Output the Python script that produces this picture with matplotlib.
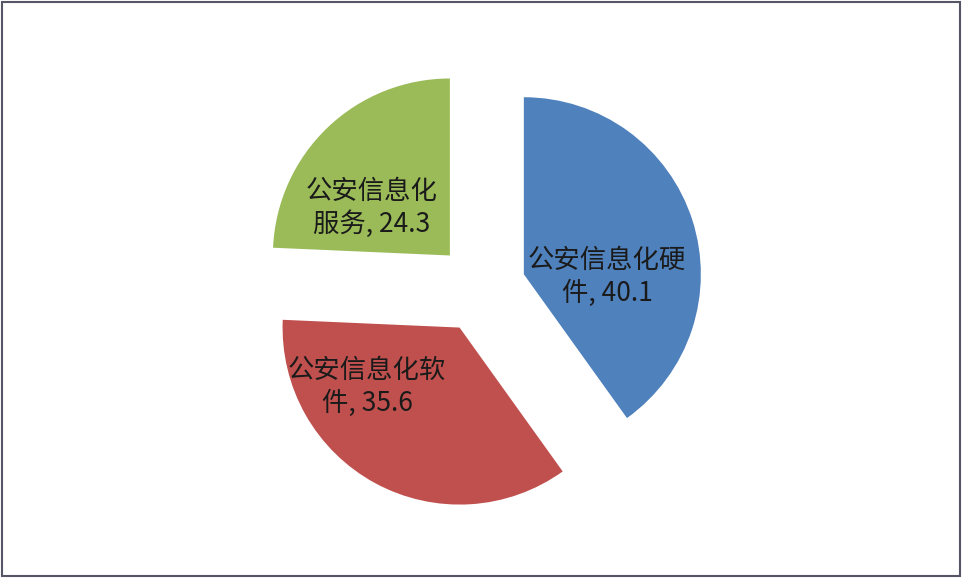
import matplotlib
matplotlib.use("Agg")
import matplotlib.pyplot as plt
from matplotlib.patches import Rectangle

plt.rcParams['font.family'] = ['Noto Sans CJK SC', 'DejaVu Sans']

categories = ["公安信息化硬件", "公安信息化软件", "公安信息化服务"]
values = [40.1, 35.6, 24.3]
labels = ["公安信息化硬\n件, 40.1", "公安信息化软\n件, 35.6", "公安信息化\n服务, 24.3"]
colors = ["#4F81BD", "#C0504D", "#9BBB59"]

W, H = 964, 580
fig = plt.figure(figsize=(W / 100, H / 100), dpi=100)
ax = fig.add_axes([0, 0, 1, 1])
ax.set_xlim(0, W)
ax.set_ylim(0, H)
ax.set_aspect('equal')
ax.axis('off')

wedges, _ = ax.pie(values, colors=colors, startangle=90, counterclock=False,
                   explode=[45, 45, 45], radius=177, center=(481, H - 288),
                   wedgeprops=dict(linewidth=0))
ax.set_xlim(0, W)
ax.set_ylim(0, H)

label_pos = [(607, 277), (367, 387), (372, 208)]
for (x, y), lab in zip(label_pos, labels):
    ax.text(x, H - y, lab, ha='center', va='center', fontsize=19,
            color='#1a1a1a', linespacing=1.25)

fig.patches.append(Rectangle((1.5 / W, 4 / H), 958.5 / W, 574 / H,
                             transform=fig.transFigure, fill=False,
                             edgecolor='#555566', linewidth=1.5))

fig.savefig("out.png", dpi=100, facecolor='white')
